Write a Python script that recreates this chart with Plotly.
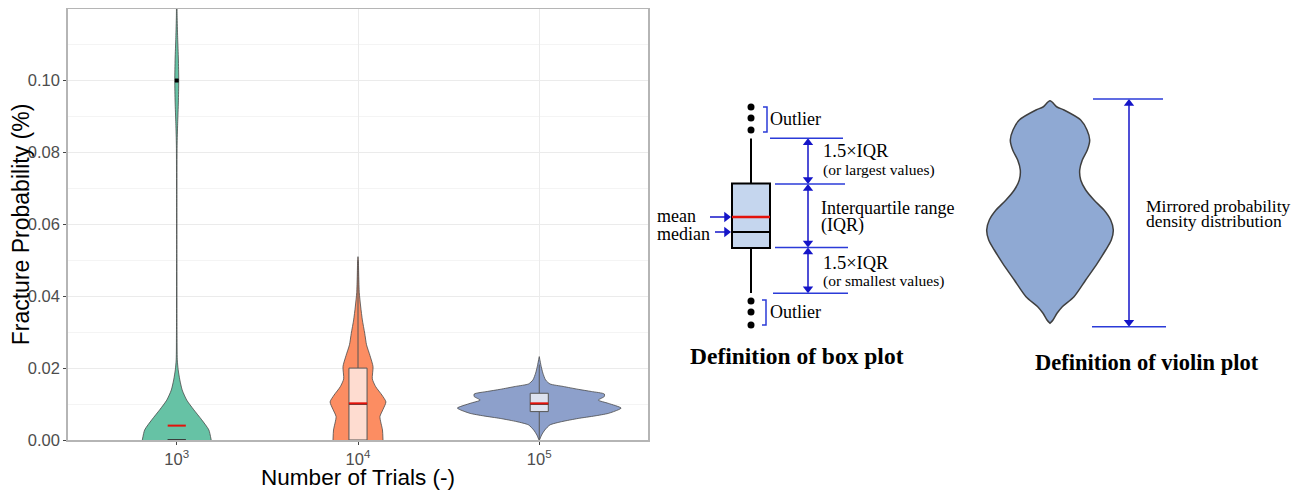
import plotly.graph_objects as go

# ---------------- data: left chart ----------------
categories = ["10<sup>3</sup>", "10<sup>4</sup>", "10<sup>5</sup>"]
cat_pos = [1, 2, 3]
y_ticks = [0.00, 0.02, 0.04, 0.06, 0.08, 0.10]

# violin density profiles: level (%), half-width (category units)
v1_level = [0.0, 0.0028, 0.0056, 0.0084, 0.0111, 0.0139, 0.0167, 0.0195, 0.0223, 0.030,
            0.050, 0.070, 0.082, 0.088, 0.094, 0.100, 0.106, 0.112, 0.118, 0.124, 0.130]
v1_half = [0.190, 0.177, 0.138, 0.094, 0.055, 0.030, 0.017, 0.008, 0.003, 0.0015,
           0.001, 0.0012, 0.002, 0.005, 0.009, 0.011, 0.009, 0.005, 0.002, 0.001, 0.0]

v2_level = [0.0, 0.0028, 0.0065, 0.0085, 0.0106, 0.0125, 0.0148, 0.0170, 0.0204, 0.0235,
            0.0265, 0.0297, 0.0334, 0.0370, 0.0410, 0.0455, 0.0500, 0.0510]
v2_half = [0.138, 0.135, 0.121, 0.138, 0.154, 0.132, 0.098, 0.079, 0.083, 0.066,
           0.047, 0.037, 0.024, 0.015, 0.007, 0.004, 0.002, 0.0]

v3_level = [0.0, 0.0014, 0.0028, 0.0042, 0.0051, 0.0060, 0.0067, 0.0074, 0.0084, 0.0089,
            0.0102, 0.0111, 0.0121, 0.0128, 0.0135, 0.0141, 0.0149, 0.0156, 0.0167, 0.0186,
            0.0204, 0.0232]
v3_half = [0.0, 0.013, 0.031, 0.059, 0.123, 0.215, 0.307, 0.381, 0.436, 0.452,
           0.381, 0.326, 0.359, 0.359, 0.287, 0.215, 0.132, 0.059, 0.035, 0.020,
           0.011, 0.0]

violin_levels = [v1_level, v2_level, v3_level]
violin_halves = [v1_half, v2_half, v3_half]

# box statistics
q1 = [0.0, 0.0, 0.0079]
median = [0.0, 0.010, 0.010]
q3 = [0.0, 0.020, 0.013]
lowerfence = [0.0, 0.0, 0.0]
upperfence = [0.0, 0.050, 0.021]
means = [0.004, 0.0102, 0.0102]
outlier_x = [1]
outlier_y = [0.10]
box_half_width = 0.05

violin_colors = ["#66C2A5", "#FC8D62", "#8DA0CB"]
box_fills = ["#D9F0E8", "#FEDCD0", "#DDE2EF"]

# ---------------- data: schematic diagrams (diagram units) ----------------
sb_center = [751]
sb_q1 = [242]
sb_median = [258]
sb_q3 = [306.5]
sb_lo = [197]
sb_hi = [351.5]
sb_mean = 273
sb_out_top = [383, 372, 360]
sb_out_bot = [189, 178, 165]
sb_guides = [351.7, 306.0, 242.5, 196.7]

sv_center = 1050
sv_level = [389.3, 383, 380, 370, 360, 350, 340, 330, 320, 310, 300, 290, 280, 270, 260,
            250, 240, 226.7, 210, 193.3, 183.3, 176.7, 170, 166.7]
sv_half = [0, 7, 14, 30.7, 37, 39.7, 37.3, 32.3, 29.7, 30.7, 35.7, 44, 54, 60.7, 63.3,
           61.3, 55.7, 47.3, 35.7, 24, 12.3, 7, 3, 0]
sv_top, sv_bot = 391, 163.3

# page geometry (the page body adds an 8px margin around the figure)
PAGE_W, PAGE_H, BODY = 1306, 490, 8
W, H = PAGE_W - BODY, PAGE_H - BODY


def px_x(x):
    return (x - BODY) / W


def px_y(y):
    return (PAGE_H - y) / H


fig = go.Figure()

# violins
for c, lev, half, col in zip(cat_pos, violin_levels, violin_halves, violin_colors):
    xs = [c - h for h in half] + [c + h for h in reversed(half)]
    ys = list(lev) + list(reversed(lev))
    fig.add_trace(go.Scatter(x=xs, y=ys, mode="lines", fill="toself", fillcolor=col,
                             line=dict(color="#4A4A4A", width=0.8, shape="spline", smoothing=0.6),
                             hoverinfo="skip", showlegend=False))

# boxes (drawn above the violins)
for i, c in enumerate(cat_pos):
    x0, x1 = c - box_half_width, c + box_half_width
    fig.add_trace(go.Scatter(x=[c, c, None, c, c], y=[q3[i], upperfence[i], None, q1[i], lowerfence[i]],
                             mode="lines", line=dict(color="#555555", width=1),
                             showlegend=False, hoverinfo="skip"))
    fig.add_trace(go.Scatter(x=[x0, x1, x1, x0, x0], y=[q1[i], q1[i], q3[i], q3[i], q1[i]],
                             mode="lines", fill="toself", fillcolor=box_fills[i],
                             line=dict(color="#555555", width=1), showlegend=False, hoverinfo="skip"))
    fig.add_trace(go.Scatter(x=[x0, x1], y=[median[i], median[i]], mode="lines",
                             line=dict(color="#333333", width=1.6), showlegend=False, hoverinfo="skip"))
    fig.add_trace(go.Scatter(x=[x0, x1], y=[means[i], means[i]], mode="lines",
                             line=dict(color="#E3120B", width=2), showlegend=False, hoverinfo="skip"))

fig.add_trace(go.Scatter(x=outlier_x, y=outlier_y, mode="markers",
                         marker=dict(color="black", size=4, symbol="square"),
                         showlegend=False, hoverinfo="skip"))

# ---------------- schematic box plot ----------------
fig.add_trace(go.Box(x=sb_center, q1=sb_q1, median=sb_median, q3=sb_q3,
                     lowerfence=sb_lo, upperfence=sb_hi, width=38, whiskerwidth=0,
                     fillcolor="#C5D6EE", line=dict(color="black", width=2), boxpoints=False,
                     xaxis="x2", yaxis="y2", showlegend=False, hoverinfo="skip"))
fig.add_trace(go.Scatter(x=[sb_center[0] - 19, sb_center[0] + 19], y=[sb_mean, sb_mean],
                         mode="lines", line=dict(color="#E3120B", width=2.5),
                         xaxis="x2", yaxis="y2", showlegend=False, hoverinfo="skip"))
fig.add_trace(go.Scatter(x=sb_center * 6, y=sb_out_top + sb_out_bot, mode="markers",
                         marker=dict(color="black", size=7),
                         xaxis="x2", yaxis="y2", showlegend=False, hoverinfo="skip"))

# schematic violin
vx = [sv_center - h for h in sv_half] + [sv_center + h for h in reversed(sv_half)]
vy = sv_level + list(reversed(sv_level))
fig.add_trace(go.Scatter(x=vx, y=vy, mode="lines", fill="toself", fillcolor="#8FA9D3",
                         line=dict(color="#3F3F3F", width=1.5, shape="spline", smoothing=0.8),
                         xaxis="x2", yaxis="y2", showlegend=False, hoverinfo="skip"))

BLUE = "#2B3BD8"
ARROW = "#1515C8"
shapes = []
guide_x = [(770, 843), (775, 845), (775, 848), (773, 848)]
for yv, (x0, x1) in zip(sb_guides, guide_x):
    shapes.append(dict(type="line", xref="x2", yref="y2", x0=x0, x1=x1, y0=yv, y1=yv,
                       line=dict(color=BLUE, width=1.5)))
shapes.append(dict(type="path", xref="x2", yref="y2",
                   path="M 763,383 L 767,383 L 767,358 L 763,358",
                   line=dict(color=BLUE, width=1.5)))
shapes.append(dict(type="path", xref="x2", yref="y2",
                   path="M 762,190 L 766,190 L 766,165 L 762,165",
                   line=dict(color=BLUE, width=1.5)))
shapes.append(dict(type="line", xref="x2", yref="y2", x0=1093, x1=1163, y0=sv_top, y1=sv_top,
                   line=dict(color=BLUE, width=1.5)))
shapes.append(dict(type="line", xref="x2", yref="y2", x0=1092, x1=1166, y0=sv_bot, y1=sv_bot,
                   line=dict(color=BLUE, width=1.5)))

arrow_specs = [(808, sb_guides[0], sb_guides[1]), (808, sb_guides[1], sb_guides[2]),
               (808, sb_guides[2], sb_guides[3]), (1129, sv_top, sv_bot)]
head_x, head_y, head_sym = [], [], []
for ax_, ytop, ybot in arrow_specs:
    shapes.append(dict(type="line", xref="x2", yref="y2", x0=ax_, x1=ax_, y0=ytop - 3, y1=ybot + 3,
                       line=dict(color=ARROW, width=1.5)))
    head_x += [ax_, ax_]
    head_y += [ytop - 4.5, ybot + 4.5]
    head_sym += ["triangle-up", "triangle-down"]
for yv, xt in [(273, 710), (258, 715)]:
    shapes.append(dict(type="line", xref="x2", yref="y2", x0=xt, x1=726, y0=yv, y1=yv,
                       line=dict(color=ARROW, width=1.5)))
    head_x.append(726.5)
    head_y.append(yv)
    head_sym.append("triangle-right")
fig.add_trace(go.Scatter(x=head_x, y=head_y, mode="markers",
                         marker=dict(color=ARROW, size=9, symbol=head_sym, line=dict(width=0)),
                         xaxis="x2", yaxis="y2", showlegend=False, hoverinfo="skip"))

annotations = []
SERIF = "Liberation Serif, Times New Roman, serif"


def label(x, y, text, size=17, anchor="left", bold=False):
    annotations.append(dict(xref="x2", yref="y2", x=x, y=y, text=("<b>%s</b>" % text) if bold else text,
                            showarrow=False, xanchor=anchor, yanchor="middle",
                            font=dict(family=SERIF, size=size, color="black")))


label(768, 371, "Outlier", size=18)
label(768, 178, "Outlier", size=18)
label(821, 339, "1.5×IQR", size=18.5)
label(821, 320.5, "(or largest values)", size=15.5)
label(819, 282.5, "Interquartile range", size=18)
label(819, 265, "(IQR)", size=18)
label(821, 227.5, "1.5×IQR", size=18.5)
label(821, 209.5, "(or smallest values)", size=15.5)
label(655, 274, "mean", size=18)
label(655, 256.5, "median", size=18)
label(797, 134, "Definition of box plot", size=23.5, anchor="center", bold=True)
label(1144, 284.5, "Mirrored probability", size=17.5)
label(1144, 269.5, "density distribution", size=17.5)
label(1147, 128, "Definition of violin plot", size=22.5, anchor="center", bold=True)

SANS = "Liberation Sans, Arial, sans-serif"
fig.update_layout(
    width=W, height=H,
    margin=dict(l=0, r=0, t=0, b=0),
    paper_bgcolor="white", plot_bgcolor="white",
    showlegend=False,
    font=dict(family=SANS),
    shapes=shapes,
    annotations=annotations,
    xaxis=dict(domain=[px_x(68), px_x(648)], range=[0.4, 3.6], tickvals=cat_pos,
               ticktext=categories, showgrid=True, gridcolor="#EBEBEB", gridwidth=1,
               zeroline=False, showline=True, linecolor="#B5B5B5", linewidth=1.5, mirror=True,
               ticks="outside", ticklen=3, tickcolor="#444444", automargin=False,
               tickfont=dict(size=16.5, color="#4D4D4D", family=SANS),
               title=dict(text="Number of Trials (-)", font=dict(size=22.5, color="black", family=SANS),
                          standoff=0)),
    yaxis=dict(domain=[px_y(440), px_y(9)], range=[0, 0.1199], tickvals=y_ticks,
               tickformat=".2f", showgrid=True, gridcolor="#EBEBEB", gridwidth=1,
               minor=dict(dtick=0.01, tick0=0, showgrid=True, gridcolor="#F4F4F4", gridwidth=1),
               zeroline=False, showline=True, linecolor="#B5B5B5", linewidth=1.5, mirror=True,
               ticks="outside", ticklen=3, tickcolor="#444444", automargin=False,
               tickfont=dict(size=16.5, color="#4D4D4D", family=SANS),
               title=dict(text="Fracture Probability (%)", font=dict(size=23, color="black", family=SANS),
                          standoff=0)),
    xaxis2=dict(domain=[px_x(653), 1.0], range=[653, PAGE_W], visible=False, fixedrange=True,
                automargin=False),
    yaxis2=dict(domain=[0, 1], range=[0, H], visible=False, anchor="x2", fixedrange=True,
                automargin=False),
)

fig.write_html("out.html")
